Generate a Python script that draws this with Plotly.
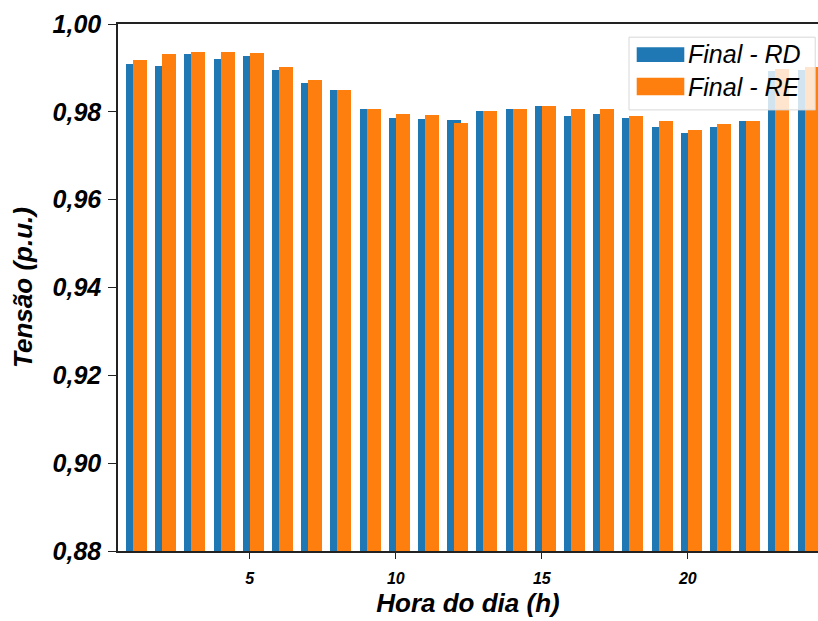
import plotly.graph_objects as go

hours = list(range(1, 25))
final_rd = [0.9910, 0.9904, 0.9931, 0.9921, 0.9928, 0.9895, 0.9866, 0.9849, 0.9807, 0.9787,
            0.9784, 0.9781, 0.9801, 0.9807, 0.9814, 0.9791, 0.9794, 0.9787, 0.9765, 0.9751,
            0.9765, 0.9778, 0.9893, 0.9896]
final_re = [0.9918, 0.9931, 0.9937, 0.9937, 0.9934, 0.9901, 0.9872, 0.9849, 0.9807, 0.9794,
            0.9793, 0.9774, 0.9801, 0.9807, 0.9813, 0.9807, 0.9807, 0.9790, 0.9778, 0.9759,
            0.9772, 0.9778, 0.9898, 0.9902]
series_names = ["Final - RD", "Final - RE"]
y_ticks = [0.88, 0.90, 0.92, 0.94, 0.96, 0.98, 1.00]
x_ticks = [5, 10, 15, 20]

BLUE = "#1f77b4"
ORANGE = "#ff7f0e"
FONT = "Liberation Sans, Arial, sans-serif"

fig = go.Figure()
fig.add_bar(x=hours, y=final_rd, width=0.48, offset=-0.24, marker=dict(color=BLUE, line=dict(width=0)),
            name=series_names[0], showlegend=False)
fig.add_bar(x=hours, y=final_re, width=0.48, offset=0.0, marker=dict(color=ORANGE, line=dict(width=0)),
            name=series_names[1], showlegend=False)

# custom legend (matplotlib-style)
shapes = [
    dict(type="rect", xref="paper", yref="paper", x0=0.730, x1=0.996, y0=0.837, y1=0.975,
         fillcolor="rgba(255,255,255,0.8)", line=dict(color="#d8d8d8", width=1), layer="above"),
    dict(type="rect", xref="paper", yref="paper", x0=0.741, x1=0.809, y0=0.928, y1=0.956,
         fillcolor=BLUE, line=dict(width=0), layer="above"),
    dict(type="rect", xref="paper", yref="paper", x0=0.741, x1=0.809, y0=0.865, y1=0.898,
         fillcolor=ORANGE, line=dict(width=0), layer="above"),
]
annotations = [
    dict(text=series_names[0], xref="paper", yref="paper", x=0.811, y=0.943, xanchor="left",
         yanchor="middle", showarrow=False, font=dict(family=FONT, size=25, style="italic", color="black")),
    dict(text=series_names[1], xref="paper", yref="paper", x=0.811, y=0.881, xanchor="left",
         yanchor="middle", showarrow=False, font=dict(family=FONT, size=25, style="italic", color="black")),
]

fig.update_layout(
    width=818, height=621, autosize=False,
    margin=dict(l=118, r=0, t=24, b=70),
    paper_bgcolor="white", plot_bgcolor="white",
    barmode="overlay", bargap=0,
    separators=", ",
    shapes=shapes, annotations=annotations,
    showlegend=False,
)
fig.update_xaxes(
    range=[0.486, 24.46], tickvals=x_ticks, ticks="outside", ticklen=6, tickwidth=1.2,
    tickcolor="#222", showline=True, linecolor="#222", linewidth=1.5, mirror=True,
    showgrid=False, zeroline=False, ticklabelstandoff=6,
    tickfont=dict(family=FONT, size=16, weight="bold", style="italic", color="black"),
    title=dict(text="Hora do dia (h)", standoff=8,
               font=dict(family=FONT, size=26, weight="bold", style="italic", color="black")),
)
fig.update_yaxes(
    range=[0.88, 1.00], tickvals=y_ticks, tickformat=".2f", ticks="outside", ticklen=8,
    tickwidth=1.2, tickcolor="#222", showline=True, linecolor="#222", linewidth=1.5,
    showgrid=False, zeroline=False, ticklabelstandoff=2,
    tickfont=dict(family=FONT, size=25, weight="bold", style="italic", color="black"),
    title=dict(text="Tensão (p.u.)", standoff=12,
               font=dict(family=FONT, size=26, weight="bold", style="italic", color="black")),
)

fig.write_html("out.html")
